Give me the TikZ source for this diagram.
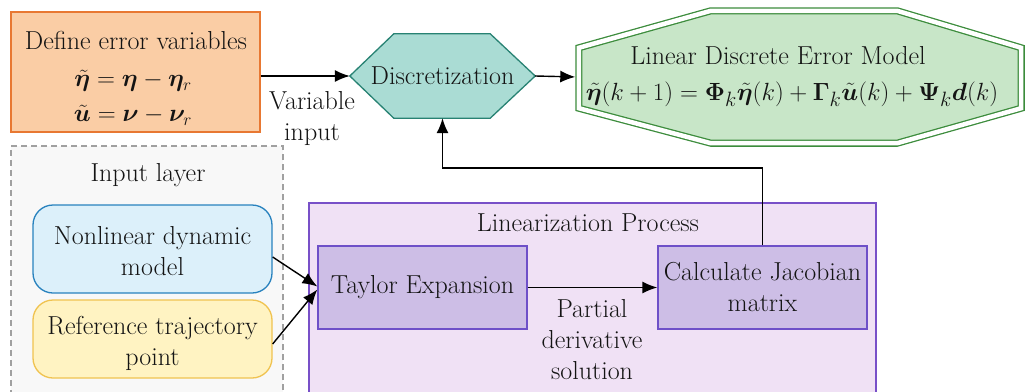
\documentclass[tikz,border=0pt]{standalone}
\usepackage{amsmath}
\usepackage{bm}
\usetikzlibrary{arrows.meta,backgrounds}

\definecolor{txt}{HTML}{141414}
\definecolor{orgfill}{HTML}{FACDA5}
\definecolor{orgline}{HTML}{E87832}
\definecolor{tealfill}{HTML}{AADCD4}
\definecolor{tealline}{HTML}{288273}
\definecolor{grnfill}{HTML}{C8E6C8}
\definecolor{grnline}{HTML}{3C8C3C}
\definecolor{grayline}{HTML}{A0A0A0}
\definecolor{grayfill}{HTML}{F8F8F8}
\definecolor{bluefill}{HTML}{DCF0FA}
\definecolor{blueline}{HTML}{2882BE}
\definecolor{yelfill}{HTML}{FFF3C2}
\definecolor{yelline}{HTML}{F0C350}
\definecolor{purfill}{HTML}{F0E1F5}
\definecolor{purline}{HTML}{7850C8}
\definecolor{lilfill}{HTML}{CDBEE6}
\definecolor{lilline}{HTML}{6E50C8}

\tikzset{
  every node/.style={font=\fontsize{26}{31}\selectfont, text=txt, inner sep=0pt, align=center},
  defeq/.style={font=\fontsize{25}{31}\selectfont},
  modeleq/.style={font=\fontsize{27.5}{31}\selectfont},
  arr/.style={-{Latex[length=15pt,width=12pt]}, line width=1.4pt, draw=black},
  defbox/.style={draw=orgline, fill=orgfill, line width=1.3pt},
  hexfill/.style={draw=tealline, fill=tealfill, line width=1.3pt},
  octfill/.style={draw=grnline, fill=grnfill, double=white, double distance=4.5pt, line width=1.3pt},
  layerbox/.style={draw=grayline, fill=grayfill, line width=1.2pt, dash pattern=on 6pt off 4pt},
  inbox/.style={rounded corners=20pt, line width=1.3pt},
  procbox/.style={draw=purline, fill=purfill, line width=1.3pt},
  stagebox/.style={draw=lilline, fill=lilfill, line width=1.3pt},
}

\begin{document}
\begin{tikzpicture}[x=1pt,y=-1pt]
\useasboundingbox (0,0) rectangle (1027,391);

% error variable definitions
\node[defbox, minimum width=249, minimum height=120] (def) at (135.5,72) {};
\node (defT) at (136,40) {Define error variables};
\node[defeq] (defA) at (133,81) {$\tilde{\bm\eta}=\bm\eta-\bm\eta_{r}$};
\node[defeq] (defB) at (133,115) {$\tilde{\bm u}=\bm\nu-\bm\nu_{r}$};

% discretization step (hexagon drawn on the background layer)
\node[minimum width=185, minimum height=84] (disc) at (442.5,76) {Discretization};

% discrete error model (octagon drawn on the background layer)
\node[minimum width=442, minimum height=132] (model) at (800,77) {};
\node (modelT) at (778,56) {Linear Discrete Error Model};
\node[modeleq] (modelEq) at (792,94) {$\tilde{\bm\eta}(k+1)=\bm\Phi_{k}\tilde{\bm\eta}(k)+\bm\Gamma_{k}\tilde{\bm u}(k)+\bm\Psi_{k}\bm d(k)$};

% input layer
\node[layerbox, minimum width=272, minimum height=252] (inlayer) at (147,272) {};
\node (inT) at (148,175) {Input layer};
\node[inbox, draw=blueline, fill=bluefill, minimum width=239, minimum height=88] (dyn) at (152.5,249) {};
\node (dynT) at (152.5,251) {Nonlinear dynamic\\model};
\node[inbox, draw=yelline, fill=yelfill, minimum width=239, minimum height=78] (ref) at (152.5,339) {};
\node (refT) at (152.5,343) {Reference trajectory\\point};

% linearization process
\node[procbox, minimum width=567, minimum height=197] (proc) at (592.5,301.5) {};
\node (procT) at (588,223) {Linearization Process};
\node[stagebox, minimum width=209, minimum height=83] (tay) at (422.5,287.5) {Taylor Expansion};
\node[stagebox, minimum width=209, minimum height=83] (jac) at (762.5,287.5) {Calculate Jacobian\\matrix};

% connectors
\draw[arr] (def.east |- disc.west) -- (disc.west);
\node (varT) at (312,119) {Variable\\input};
\draw[arr, shorten >=3.5pt] (disc.east) -- (model.west);
\draw[arr] ([yshift=-8pt]dyn.east) -- ([yshift=1pt]tay.west);
\draw[arr] ([yshift=-5pt]ref.east) -- ([yshift=-2pt]tay.west);
\draw[arr] (tay.east) -- (jac.west);
\node (partT) at (592,340) {Partial\\derivative\\solution};
\coordinate (turn) at (600,168);
\draw[arr] (jac.north) -- (jac.north |- turn) -| (disc.south);

\begin{pgfonlayer}{background}
  \path[hexfill] (disc.west) -- ([xshift=44pt]disc.north west) -- ([xshift=-45pt]disc.north east)
    -- (disc.east) -- ([xshift=-45pt]disc.south east) -- ([xshift=44pt]disc.south west) -- cycle;
  \path[octfill] ([yshift=-37pt]model.north west) -- ([xshift=132pt]model.north west)
    -- ([xshift=-124pt]model.north east) -- ([yshift=-37pt]model.north east)
    -- ([yshift=35pt]model.south east) -- ([xshift=-124pt]model.south east)
    -- ([xshift=132pt]model.south west) -- ([yshift=35pt]model.south west) -- cycle;
\end{pgfonlayer}
\end{tikzpicture}
\end{document}
